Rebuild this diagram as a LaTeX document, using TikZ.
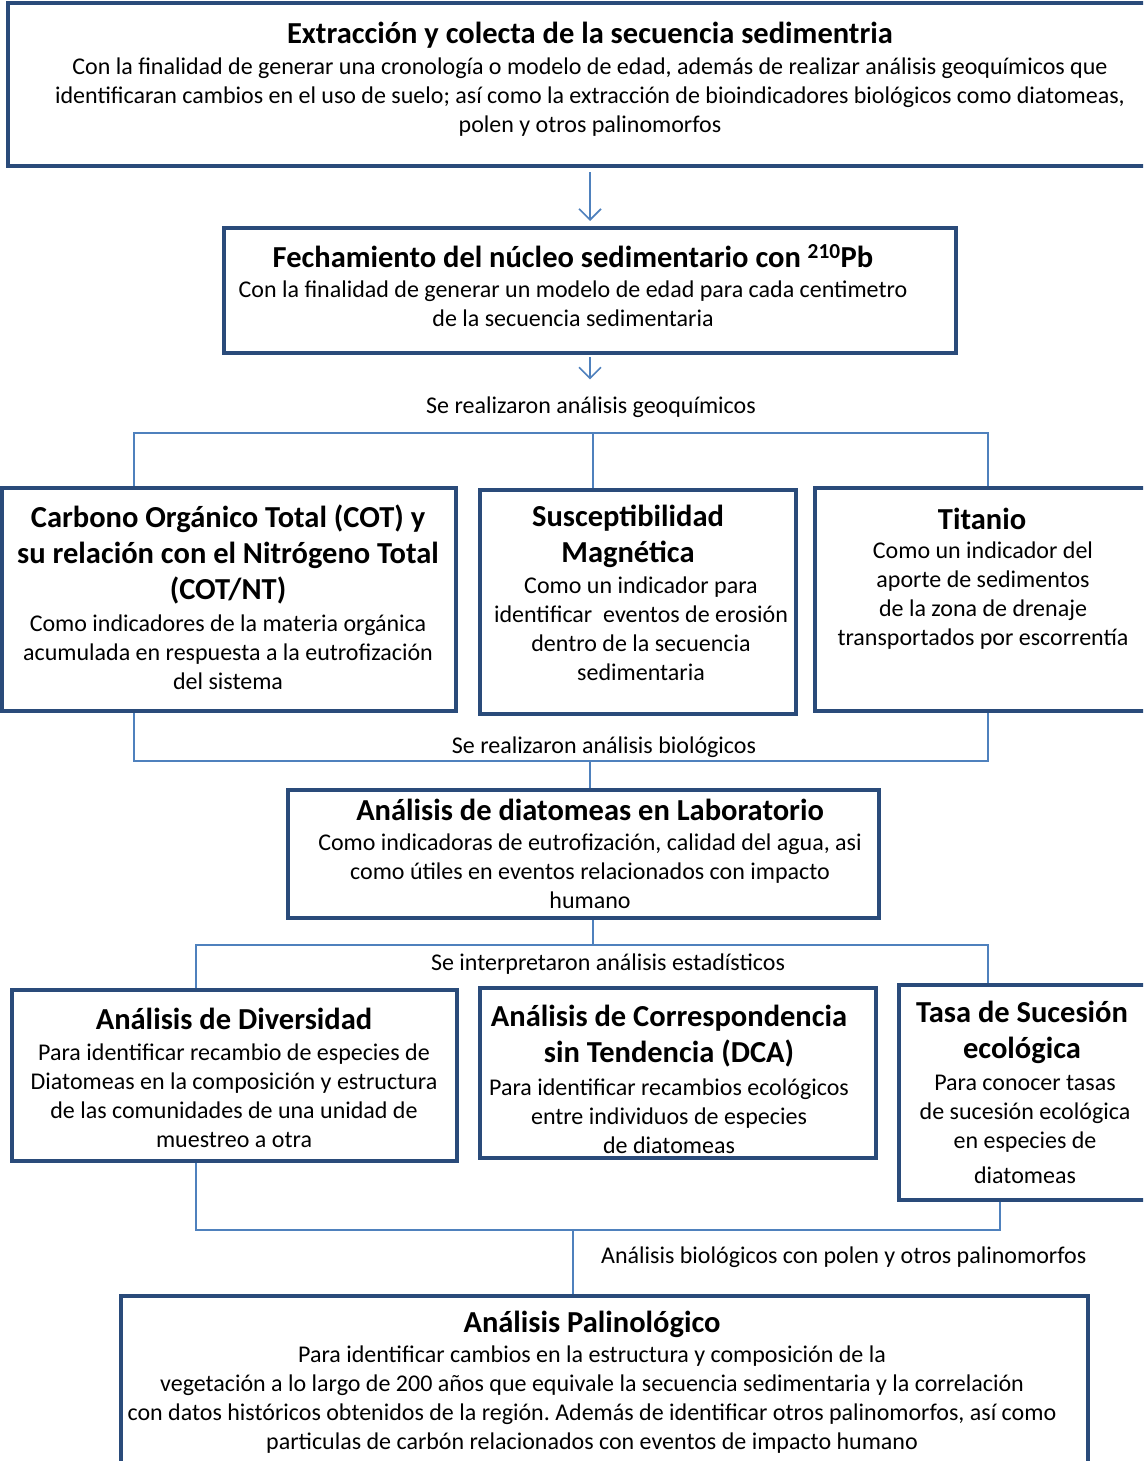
\documentclass[tikz,border=0pt]{standalone}
\usepackage{fontspec}
\setmainfont{Carlito}
\usetikzlibrary{arrows.meta}
\frenchspacing
\definecolor{boxblue}{RGB}{42,75,122}
\definecolor{lineblue}{RGB}{79,129,189}
\newcommand\tfont{\fontsize{30.5}{36}\selectfont\bfseries}
\newcommand\bfont{\fontsize{24}{29}\selectfont}
\newcommand\boxat[5]{\node[box, minimum width={#4-#2}, minimum height={#5-#3}] (#1) at ({(#2+#4)/2},{(#3+#5)/2}) {};}
\tikzset{
  box/.style={draw=boxblue, line width=4pt, inner sep=0pt, rectangle, fill=none},
  conn/.style={draw=lineblue, line width=1.6pt},
  arr/.style={conn, -{Straight Barb[length=11pt,width=22pt]}},
  ttl/.style={font=\tfont, align=center, inner sep=0pt, text=black},
  bdy/.style={font=\bfont, align=center, inner sep=0pt, text=black},
  lab/.style={font=\bfont, inner sep=0pt, text=black},
}
\begin{document}
\begin{tikzpicture}[x=1pt,y=-1pt]
\useasboundingbox (0,0) rectangle (1143,1461);
\clip (0,0) rectangle (1143,1461);
\fill[white] (0,0) rectangle (1143,1461);
% boxes
\boxat{top}{8}{3}{1160}{166}
\boxat{fech}{224}{228}{956}{353}
\boxat{cot}{2}{488}{456}{711}
\boxat{sus}{480}{490}{796}{714}
\boxat{tit}{815}{488}{1160}{711}
\boxat{dia}{288}{790}{879}{918}
\boxat{div}{12}{990}{457}{1161}
\boxat{dca}{480}{988}{876}{1158}
\boxat{tasa}{899}{985}{1160}{1200}
\boxat{pal}{121}{1296}{1088}{1480}
% texts
\node[ttl] (topT) at (590,35) {Extracción y colecta de la secuencia sedimentria};
\node[bdy] (topB) at (590,97) {Con la finalidad de generar una cronología o modelo de edad, además de realizar análisis geoquímicos que\\identificaran cambios en el uso de suelo; así como la extracción de bioindicadores biológicos como diatomeas,\\polen y otros palinomorfos};
\node[ttl] (fechT) at (573,256) {Fechamiento del núcleo sedimentario con \textsuperscript{210}Pb};
\node[bdy] (fechB) at (573,304) {Con la finalidad de generar un modelo de edad para cada centimetro\\de la secuencia sedimentaria};
\node[ttl] (cotT) at (228,554) {Carbono Orgánico Total (COT) y\\su relación con el Nitrógeno Total\\(COT/NT)};
\node[bdy] (cotB) at (228,652) {Como indicadores de la materia orgánica\\acumulada en respuesta a la eutrofización\\del sistema};
\node[ttl] (susT) at (628,536) {Susceptibilidad\\Magnética};
\node[bdy] (susB) at (641,629) {Como un indicador para\\identificar\ \ eventos de erosión\\dentro de la secuencia\\sedimentaria};
\node[ttl] (titT) at (982,519) {Titanio};
\node[bdy] (titB) at (983,596) {Como un indicador del\\aporte de sedimentos\\de la zona de drenaje\\transportados por escorrentía};
\node[ttl] (diaT) at (590,810) {Análisis de diatomeas en Laboratorio};
\node[bdy] (diaB) at (590,871) {Como indicadoras de eutrofización, calidad del agua, asi\\como útiles en eventos relacionados con impacto\\humano};
\node[ttl] (divT) at (234,1019) {Análisis de Diversidad};
\node[bdy] (divB) at (234,1095.5) {Para identificar recambio de especies de\\Diatomeas en la composición y estructura\\de las comunidades de una unidad de\\muestreo a otra};
\node[ttl] (dcaT) at (669,1036) {Análisis de Correspondencia\\sin Tendencia (DCA)};
\node[bdy] (dcaB) at (669,1116) {Para identificar recambios ecológicos\\entre individuos de especies\\de diatomeas};
\node[ttl] (tasaT) at (1022,1032) {Tasa de Sucesión\\ecológica};
\node[bdy] (tasaB) at (1025,1129.5) {Para conocer tasas\\de sucesión ecológica\\en especies de\\[6pt]diatomeas};
\node[ttl] (palT) at (592,1324) {Análisis Palinológico};
\node[bdy] (palB) at (592,1399.5) {Para identificar cambios en la estructura y composición de la\\vegetación a lo largo de 200 años que equivale la secuencia sedimentaria y la correlación\\con datos históricos obtenidos de la región. Además de identificar otros palinomorfos, así como\\particulas de carbón relacionados con eventos de impacto humano};
% labels
\node[lab] (lab1) at (591,407) {Se realizaron análisis geoquímicos};
\node[lab] (lab2) at (604,747) {Se realizaron análisis biológicos};
\node[lab] (lab3) at (608,964) {Se interpretaron análisis estadísticos};
\node[lab, anchor=west] (lab4) at (601,1257) {Análisis biológicos con polen y otros palinomorfos};
% junction coordinates
\coordinate (j1) at (593,433); \coordinate (j1l) at (134,433); \coordinate (j1r) at (988,433);
\coordinate (j2) at (590,761); \coordinate (j2l) at (134,761); \coordinate (j2r) at (988,761);
\coordinate (j3) at (593,945); \coordinate (j3l) at (196,945); \coordinate (j3r) at (988,945);
\coordinate (j4) at (573,1230); \coordinate (j4l) at (196,1230); \coordinate (j4r) at (1000,1230);
% connectors
\draw[arr, shorten <=4pt, shorten >=5pt] (fech.north |- top.south) -- (fech.north);
\draw[arr, shorten <=2pt, shorten >=17pt] (fech.south) -- (lab1.north -| fech.south);
\draw[conn] (j1l |- cot.north) -- (j1l) -- (j1r) -- (j1r |- tit.north);
\draw[conn] (j1) -- (j1 |- sus.north);
\draw[conn] (j2l |- cot.south) -- (j2l) -- (j2r) -- (j2r |- tit.south);
\draw[conn] (j2) -- (j2 |- dia.north);
\draw[conn] (j3 |- dia.south) -- (j3);
\draw[conn] (j3l |- div.north) -- (j3l) -- (j3r) -- (j3r |- tasa.north);
\draw[conn] (j4l |- div.south) -- (j4l) -- (j4r) -- (j4r |- tasa.south);
\draw[conn] (j4) -- (j4 |- pal.north);
\end{tikzpicture}
\end{document}
